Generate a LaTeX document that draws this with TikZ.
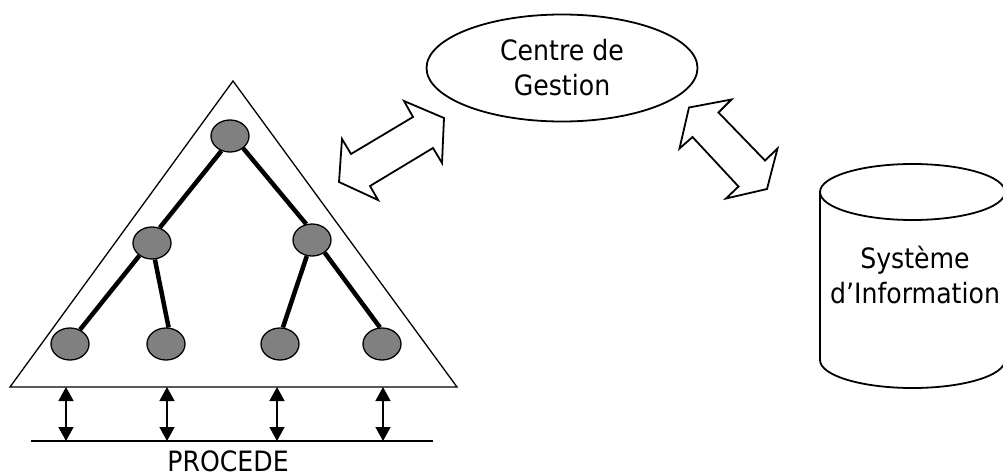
\documentclass[tikz,border=0pt]{standalone}
\usepackage{fontspec}
\setmainfont{DejaVu Sans}[FakeStretch=0.9]
\usetikzlibrary{arrows.meta,shapes.geometric}
\definecolor{nodegray}{RGB}{128,128,128}
\begin{document}
\begin{tikzpicture}[x=1pt,y=-1pt,
  txt/.style={font=\fontsize{28}{35}\selectfont, align=center, inner sep=0pt},
  leaf/.style={ellipse, draw, line width=1.3pt, fill=nodegray, minimum width=38pt, minimum height=32pt, inner sep=0pt},
  branch/.style={line width=4.5pt},
  link/.style={line width=1.5pt, {Triangle[width=15pt,length=14pt]}-{Triangle[width=15pt,length=14pt]}},
  outline/.style={line width=1.8pt, line join=miter},
  thin/.style={line width=1.3pt},
]
\useasboundingbox (0,0) rectangle (1003,474);

% triangle
\coordinate (apex) at (233,81);
\coordinate (bl) at (10,387);
\coordinate (br) at (457,387);
\draw[thin] (apex) -- (br) -- (bl) -- cycle;

% tree
\node[leaf] (n0) at (230,136) {};
\node[leaf] (n1) at (152,243) {};
\node[leaf] (n2) at (312,240) {};
\node[leaf] (n3) at (70,344) {};
\node[leaf] (n4) at (166,344) {};
\node[leaf] (n5) at (280,344) {};
\node[leaf] (n6) at (382,344) {};
\draw[branch] (n0.240) -- (n1.63);
\draw[branch] (n0.317) -- (n2.110);
\draw[branch] (n1.225) -- (n3.55);
\draw[branch] (n1.280) -- (n4.81);
\draw[branch] (n2.252) -- (n5.80);
\draw[branch] (n2.315) -- (n6.97);

% process line and arrows
\coordinate (pl) at (31,441);
\coordinate (pr) at (433,441);
\draw[line width=1.5pt] (pl) -- (pr);
\foreach \i/\x in {1/66,2/167,3/277,4/383}{
  \coordinate (t\i) at (\x,387);
  \coordinate (b\i) at (\x,441);
  \draw[link] (t\i) -- (b\i);
}
\node[txt, anchor=base] (procede) at (228,471.5) {PROCEDE};

% centre de gestion
\node[ellipse, draw, line width=1.8pt, minimum width=271pt, minimum height=107pt, txt] (cg) at (562,68) {Centre de\\Gestion};

% double arrows
\draw[outline, fill=white] (339,182) -- (342,139) -- (351,154) -- (413,117) -- (404,101) -- (444,118) -- (442,163) -- (433,148) -- (370,186) -- (378,200) -- cycle;
\draw[outline, fill=white] (689,107.5) -- (731.5,99.5) -- (718.5,112.5) -- (765,160.5) -- (777.5,148.5) -- (767,189) -- (726,198.5) -- (738.5,186.5) -- (692.5,137) -- (679.5,148.5) -- cycle;

% cylinder
\draw[outline] (912.5,192) ellipse [x radius=92.5, y radius=28];
\draw[outline] (820,192) -- (820,360) arc[start angle=180, end angle=0, x radius=92.5, y radius=28] -- (1005,192);
\node[txt] (si) at (915,274.5) {Système\\d’Information};
\end{tikzpicture}
\end{document}
